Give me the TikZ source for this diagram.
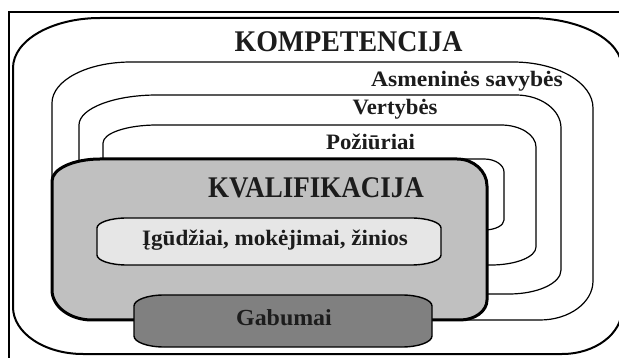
\documentclass[tikz,border=0pt]{standalone}
\usepackage{fontspec}
\setmainfont{Liberation Serif}
\usepackage{graphicx}
\definecolor{txt}{HTML}{1C1C1C}
\definecolor{kvalgray}{HTML}{C0C0C0}
\definecolor{skillgray}{HTML}{E6E6E6}
\definecolor{giftgray}{HTML}{808080}
\newcommand\setcorners[8]{\def\aA{#1}\def\bA{#2}\def\aB{#3}\def\bB{#4}\def\aC{#5}\def\bC{#6}\def\aD{#7}\def\bD{#8}}
% L T R B ; corners TL, TR, BR, BL set via \setcorners
\newcommand\rshapepath[4]{({#1+\aA},#2) -- ({#3-\aB},#2)
  arc[start angle=270,end angle=360,x radius=\aB,y radius=\bB]
  -- (#3,{#4-\bC}) arc[start angle=0,end angle=90,x radius=\aC,y radius=\bC]
  -- ({#1+\aD},#4) arc[start angle=90,end angle=180,x radius=\aD,y radius=\bD]
  -- (#1,{#2+\bA}) arc[start angle=180,end angle=270,x radius=\aA,y radius=\bA] -- cycle}
\tikzset{
  ring/.style={draw=black, line width=1.2pt, fill=white},
  outerring/.style={draw=black, line width=2pt},
  kvalbox/.style={draw=black, line width=3pt, fill=kvalgray},
  innerbox/.style={draw=black, line width=1.4pt},
  smalllbl/.style={inner sep=0pt, anchor=base, text=txt, font=\bfseries\fontsize{22}{26}\selectfont},
  biglbl/.style={inner sep=0pt, anchor=base, text=txt, font=\bfseries\fontsize{30}{36}\selectfont},
}
\begin{document}
\begin{tikzpicture}[x=1pt,y=-1pt]
\path[use as bounding box] (0,0) rectangle (619,358);
\clip (0,0) rectangle (619,358);
\fill[white] (0,0) rectangle (619,358);
% frame
\draw[line width=1.2pt] (9,12) rectangle (640,380);
% outer ring
\setcorners{87}{50}{92}{50}{60}{45}{70}{47}
\draw[outerring] \rshapepath{13}{18}{622}{354};
% Asmenines savybes
\setcorners{79}{41}{80}{46}{53}{39}{40}{30}
\draw[ring] \rshapepath{52}{62}{593}{320};
% Vertybes
\setcorners{78}{30}{45}{33}{52}{24}{10}{10}
\draw[ring] \rshapepath{79}{95}{561}{294};
% Poziuriai
\setcorners{54}{18}{35}{22}{45}{18}{10}{10}
\draw[ring] \rshapepath{103}{125}{536}{265};
% innermost ring
\setcorners{10}{10}{20}{13}{20}{10}{10}{10}
\draw[ring] \rshapepath{120}{159}{504}{230};
% KVALIFIKACIJA
\setcorners{48}{22}{30}{27}{27}{20}{40}{30}
\draw[kvalbox] \rshapepath{52}{159}{487}{320};
% skills
\setcorners{30}{10}{30}{10}{30}{10}{30}{10}
\draw[innerbox, fill=skillgray] \rshapepath{97}{218}{441}{265};
% gifts
\setcorners{30}{11}{30}{11}{30}{11}{30}{11}
\draw[innerbox, fill=giftgray] \rshapepath{134}{295}{432}{347};
% labels
\node[biglbl] (komp) at (348.5,52) {\scalebox{0.93}[1]{KOMPETENCIJA}};
\node[biglbl] (kval) at (316,198) {\scalebox{0.9}[1]{KVALIFIKACIJA}};
\node[smalllbl] (asm) at (467,87) {\scalebox{1.07}[1]{Asmeninės savybės}};
\node[smalllbl] (vert) at (395,115) {\scalebox{1.03}[1]{Vertybės}};
\node[smalllbl] (poz) at (370.5,150) {\scalebox{1.04}[1]{Požiūriai}};
\node[smalllbl] (skills) at (275,246) {\scalebox{1.05}[1]{Įgūdžiai, mokėjimai, žinios}};
\node[smalllbl, font=\bfseries\fontsize{23}{27}\selectfont] (gab) at (284,326) {\scalebox{1.04}[1]{Gabumai}};
\end{tikzpicture}
\end{document}
